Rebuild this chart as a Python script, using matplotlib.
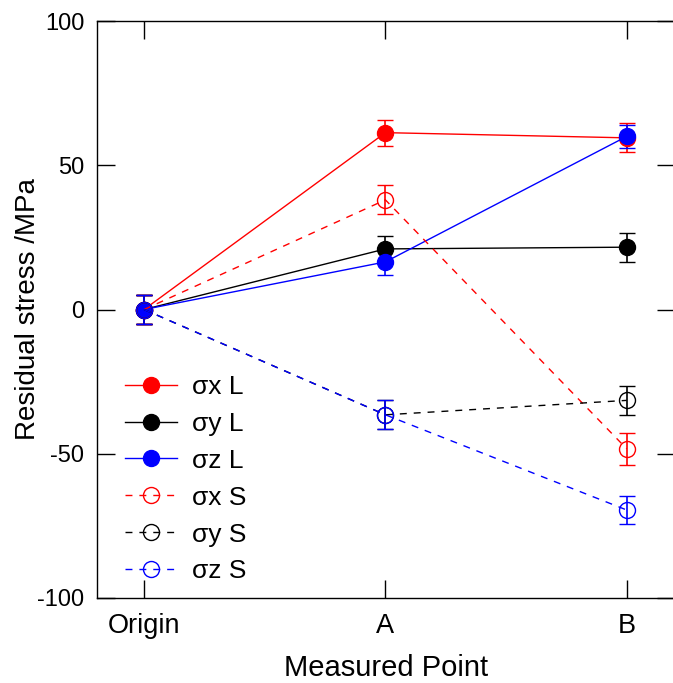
import matplotlib
matplotlib.use("Agg")
import matplotlib.pyplot as plt
from matplotlib.lines import Line2D

plt.rcParams['font.family'] = ['Liberation Sans', 'DejaVu Sans']
plt.rcParams['axes.unicode_minus'] = False

categories = ["Origin", "A", "B"]
sx_L = [0, 61.3, 59.5]
sy_L = [0, 21.0, 21.6]
sz_L = [0, 16.5, 60.0]
sx_S = [0, 38.0, -48.3]
sy_S = [0, -36.5, -31.5]
sz_S = [0, -36.5, -69.5]
err_sx_L = [5.0, 4.5, 5.0]
err_sy_L = [5.0, 4.5, 5.0]
err_sz_L = [5.0, 4.5, 4.0]
err_sx_S = [5.0, 5.0, 5.5]
err_sy_S = [5.0, 5.0, 5.0]
err_sz_S = [5.0, 5.0, 5.0]
labels = ["σx L", "σy L", "σz L", "σx S", "σy S", "σz S"]

fig = plt.figure(figsize=(6.73, 6.83), dpi=100)
ax = fig.add_axes([97/673, 1 - 598/683, (675 - 97)/673, (598 - 21)/683])

x = list(range(len(categories)))
series = [
    (sx_L, err_sx_L, 'red', '-', True),
    (sy_L, err_sy_L, 'black', '-', True),
    (sz_L, err_sz_L, 'blue', '-', True),
    (sx_S, err_sx_S, 'red', '--', False),
    (sy_S, err_sy_S, 'black', '--', False),
    (sz_S, err_sz_S, 'blue', '--', False),
]
handles = []
for (vals, errs, col, ls, filled), lab in zip(series, labels):
    kw = dict(color=col, lw=1.0, marker='o', ms=11.5,
              mfc=col if filled else 'none', mec=col, mew=1.0)
    if ls == '--':
        kw['dashes'] = (5, 5)
    else:
        kw['ls'] = '-'
    ax.errorbar(x, vals, yerr=errs, capsize=6, capthick=1.2, elinewidth=1.2, **kw)
    handles.append(Line2D([], [], label=lab, **kw))

ax.set_xlim(-0.195, 2.2)
ax.set_ylim(-100, 100)
ax.set_xticks(x)
ax.set_xticklabels(categories)
ax.set_yticks([-100, -50, 0, 50, 100])
ax.tick_params(direction='in', length=13, width=1.0, top=True, right=True)
ax.tick_params(axis='x', pad=11, labelsize=19.5)
ax.tick_params(axis='y', pad=9, labelsize=17)
for s in ax.spines.values():
    s.set_linewidth(1.0)
ax.set_xlabel("Measured Point", fontsize=21)
ax.set_ylabel("Residual stress /MPa", fontsize=20)
ax.xaxis.set_label_coords(0.5, -0.097)
ax.yaxis.set_label_coords(-0.097, 0.5)

ax.legend(handles=handles, loc='lower left', bbox_to_anchor=(0.0075, -0.016),
          frameon=False, fontsize=19, handlelength=1.95, labelspacing=0.49,
          handletextpad=0.57, borderpad=0.4)

fig.savefig("out.png", dpi=100)
